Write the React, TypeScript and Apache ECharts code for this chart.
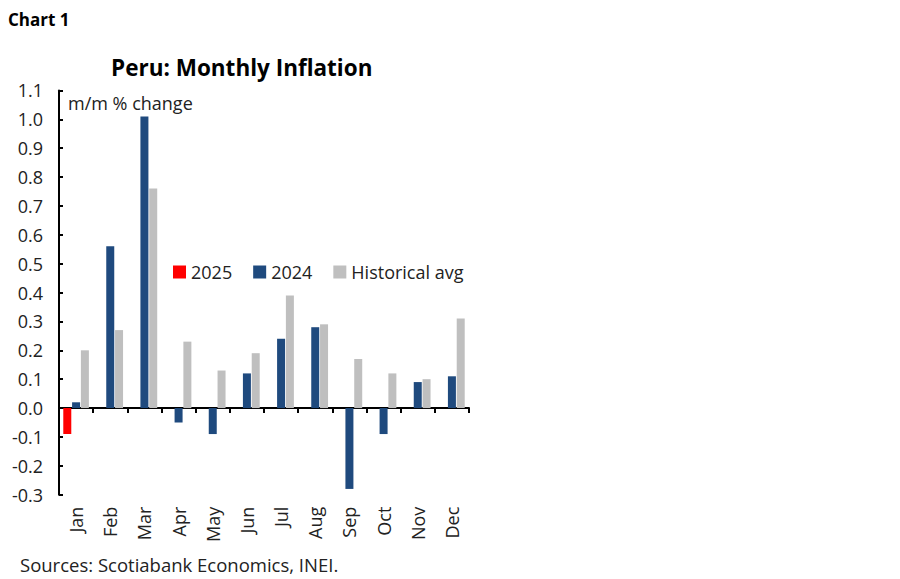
import React, { useEffect, useRef } from "react";
import * as echarts from "echarts";

const months = ["Jan", "Feb", "Mar", "Apr", "May", "Jun", "Jul", "Aug", "Sep", "Oct", "Nov", "Dec"];
const y2025: (number | null)[] = [-0.09, null, null, null, null, null, null, null, null, null, null, null];
const y2024 = [0.02, 0.56, 1.01, -0.05, -0.09, 0.12, 0.24, 0.28, -0.28, -0.09, 0.09, 0.11];
const histAvg = [0.2, 0.27, 0.76, 0.23, 0.13, 0.19, 0.39, 0.29, 0.17, 0.12, 0.1, 0.31];

const FONT = "Open Sans";
const FS = 18;

export default function App() {
  const ref = useRef<HTMLDivElement>(null);
  useEffect(() => {
    const chart = echarts.init(ref.current!, undefined, { renderer: "svg" });
    chart.setOption({
      animation: false,
      textStyle: { fontFamily: FONT },
      title: [
        { text: "Chart 1", left: 3, top: 6, textStyle: { fontFamily: FONT, fontSize: 17, fontWeight: "bold", color: "#000" } },
        { text: "Peru: Monthly Inflation", left: 106, top: 51, textStyle: { fontFamily: FONT, fontSize: 22.5, fontWeight: "bold", color: "#000" } },
        { text: "m/m % change", left: 63, top: 89, textStyle: { fontFamily: FONT, fontSize: FS, fontWeight: "normal", color: "#222" } },
        { text: "Sources: Scotiabank Economics, INEI.", left: 15, top: 550, textStyle: { fontFamily: FONT, fontSize: 18.5, fontWeight: "normal", color: "#222" } },
      ],
      legend: {
        left: 168,
        top: 258,
        itemWidth: 13,
        itemHeight: 13,
        itemGap: 21,
        icon: "rect",
        textStyle: { fontFamily: FONT, fontSize: FS, color: "#222" },
        data: ["2025", "2024", "Historical avg"],
      },
      grid: { left: 59, right: 431, top: 90.4, bottom: 84.3, containLabel: false },
      xAxis: [
        {
          type: "category",
          data: months,
          boundaryGap: true,
          axisLine: { show: true, onZero: true, lineStyle: { color: "#000", width: 2 } },
          axisTick: { show: true, length: 5, alignWithLabel: false, lineStyle: { color: "#000", width: 2 } },
          axisLabel: { show: false },
        },
        {
          type: "category",
          data: months,
          position: "bottom",
          axisLine: { show: false, onZero: false },
          axisTick: { show: false },
          axisLabel: { show: true, rotate: 90, margin: 12, fontFamily: FONT, fontSize: FS, color: "#222" },
        },
      ],
      yAxis: {
        type: "value",
        min: -0.3,
        max: 1.1,
        interval: 0.1,
        splitLine: { show: false },
        axisLine: { show: true, lineStyle: { color: "#000", width: 2 } },
        axisTick: { show: true, inside: true, length: 4, lineStyle: { color: "#000", width: 2 } },
        axisLabel: {
          margin: 16,
          fontFamily: FONT,
          fontSize: FS,
          color: "#222",
          formatter: (v: number) => v.toFixed(1),
        },
      },
      series: [
        { name: "2025", type: "bar", data: y2025, xAxisIndex: 0, barWidth: 8, barGap: "10%", barCategoryGap: "26%", itemStyle: { color: "#FF0000" } },
        { name: "2024", type: "bar", data: y2024, xAxisIndex: 0, barWidth: 8, barGap: "10%", itemStyle: { color: "#1F4A7E" } },
        { name: "Historical avg", type: "bar", data: histAvg, xAxisIndex: 0, barWidth: 8, barGap: "10%", itemStyle: { color: "#BFBFBF" } },
      ],
    });
    return () => chart.dispose();
  }, []);
  return <div ref={ref} style={{ width: 900, height: 579, position: "absolute", left: 0, top: 0, background: "#fff" }} />;
}
